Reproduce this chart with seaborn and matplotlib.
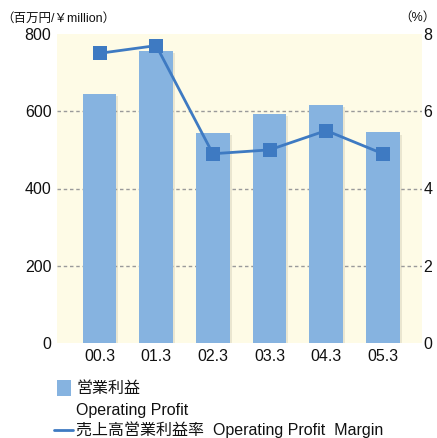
import matplotlib
matplotlib.use("Agg")
import matplotlib.pyplot as plt
import matplotlib.patheffects as pe
from matplotlib.patches import Rectangle
from matplotlib.lines import Line2D
import seaborn as sns
import pandas as pd

years = ["00.3", "01.3", "02.3", "03.3", "04.3", "05.3"]
operating_profit = [644, 756, 543, 592, 616, 545]
profit_margin = [7.5, 7.7, 4.9, 5.0, 5.5, 4.9]
left_ticks = [0, 200, 400, 600, 800]
right_ticks = [0, 2, 4, 6, 8]

sns.set_theme(style="white")
plt.rcParams['font.family'] = ['Liberation Sans', 'Noto Sans CJK JP', 'DejaVu Sans']

BAR = "#86B3E0"
LINE = "#3E7AC2"
BG = "#FEFBE6"
TXT = "#111111"

df = pd.DataFrame({"year": years, "profit": operating_profit, "margin": profit_margin})

fig = plt.figure(figsize=(4.37, 4.38), dpi=100)
ax = fig.add_axes([57/437, 1-343/438, (422-57)/437, (343-34)/438])
ax.set_facecolor(BG)

for v in left_ticks[1:-1]:
    ax.axhline(v, color="#9a9a9a", lw=1.0, ls=(0, (2.5, 2)), zorder=0.5)

sns.barplot(data=df, x="year", y="profit", color=BAR, saturation=1, width=0.59, ax=ax, zorder=2)
for p in ax.patches:
    p.set_path_effects([pe.SimplePatchShadow(offset=(1.5, -1.5), shadow_rgbFace="#b0a890", alpha=0.25), pe.Normal()])
    p.set_edgecolor("none")

ax.set_ylim(0, 800)
ax.set_yticks(left_ticks)
ax.set_xlabel("")
ax.set_ylabel("")
for s in ax.spines.values():
    s.set_visible(False)
ax.tick_params(axis="y", length=0, pad=4, labelsize=11.5, colors=TXT)
ax.tick_params(axis="x", length=0, pad=4, labelsize=11.5, colors=TXT)

ax2 = ax.twinx()
sns.pointplot(data=df, x="year", y="margin", color=LINE, markers="s", linestyles="-",
              ax=ax2, markersize=9.5, linewidth=2.0, zorder=5)
for line in ax2.lines:
    line.set_markeredgewidth(0)
ax2.set_ylim(0, 8)
ax2.set_yticks(right_ticks)
ax2.set_ylabel("")
ax2.set_xlabel("")
for s in ax2.spines.values():
    s.set_visible(False)
ax2.tick_params(axis="y", length=0, pad=1, labelsize=11.5, colors=TXT)
ax2.grid(False)
ax.grid(False)
ax.set_xlim(-0.75, 5.69)
ax2.set_xlim(-0.75, 5.69)

fig.text(1/437, 1-19/438, "（百万円/￥million）", fontsize=9, va="center", ha="left", color=TXT)
fig.text(436/437, 1-18/438, "（%）", fontsize=9, va="center", ha="right", color=TXT)

# legend
fig.add_artist(Rectangle((57/437, 1-396/438), 14/437, 16/438, transform=fig.transFigure,
                         facecolor=BAR, edgecolor="none"))
fig.text(76/437, 1-388/438, "営業利益", fontsize=11.5, va="center", ha="left", color=TXT)
fig.text(76/437, 1-410/438, "Operating Profit", fontsize=11.5, va="center", ha="left", color=TXT)
fig.add_artist(Line2D([54/437, 73/437], [1-430/438, 1-430/438], transform=fig.transFigure,
                      color=LINE, lw=2.0))
fig.text(76/437, 1-430/438, "売上高営業利益率  Operating Profit  Margin", fontsize=11.5,
         va="center", ha="left", color=TXT)

fig.savefig("out.png", dpi=100, facecolor="white")
